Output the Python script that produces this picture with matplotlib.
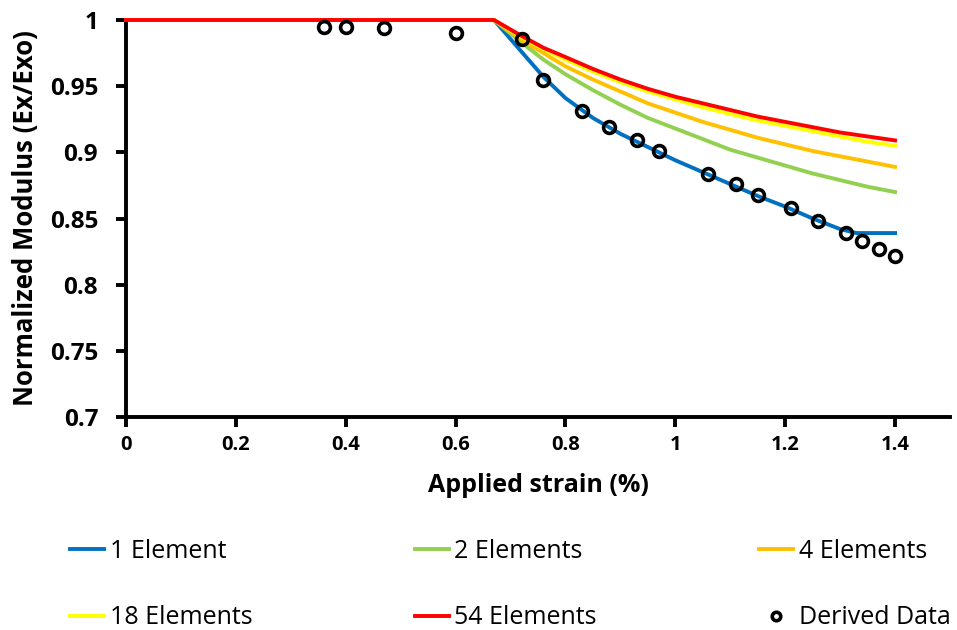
import matplotlib
matplotlib.use("Agg")
import matplotlib.pyplot as plt

# ---- data ----
x_line = [0, 0.67, 0.72, 0.76, 0.8, 0.85, 0.9, 0.95, 1.0, 1.05, 1.1, 1.15, 1.2, 1.25, 1.3, 1.35, 1.4]
x_blue = [0, 0.67, 0.72, 0.76, 0.8, 0.85, 0.9, 0.95, 1.0, 1.05, 1.1, 1.15, 1.2, 1.25, 1.3, 1.33, 1.4]
el1 = [1, 1, 0.976, 0.957, 0.941, 0.926, 0.914, 0.904, 0.894, 0.885, 0.876, 0.867, 0.859, 0.850, 0.842, 0.839, 0.839]
el2 = [1, 1, 0.983, 0.970, 0.959, 0.947, 0.936, 0.926, 0.918, 0.910, 0.902, 0.896, 0.890, 0.884, 0.879, 0.874, 0.870]
el4 = [1, 1, 0.985, 0.975, 0.965, 0.955, 0.946, 0.937, 0.930, 0.923, 0.917, 0.911, 0.906, 0.901, 0.897, 0.893, 0.889]
el18 = [1, 1, 0.987, 0.978, 0.970, 0.961, 0.953, 0.946, 0.940, 0.934, 0.929, 0.924, 0.920, 0.916, 0.912, 0.908, 0.905]
el54 = [1, 1, 0.988, 0.979, 0.972, 0.963, 0.955, 0.948, 0.942, 0.937, 0.932, 0.927, 0.923, 0.919, 0.915, 0.912, 0.909]

derived_x = [0.36, 0.40, 0.47, 0.60, 0.72, 0.76, 0.83, 0.88, 0.93, 0.97, 1.06, 1.11, 1.15, 1.21, 1.26, 1.31, 1.34, 1.37, 1.40]
derived_y = [0.995, 0.995, 0.994, 0.990, 0.986, 0.955, 0.931, 0.919, 0.909, 0.901, 0.884, 0.876, 0.868, 0.858, 0.848, 0.839, 0.833, 0.827, 0.822]

x_ticks = [0, 0.2, 0.4, 0.6, 0.8, 1.0, 1.2, 1.4]
x_ticklabels = ["0", "0.2", "0.4", "0.6", "0.8", "1", "1.2", "1.4"]
y_ticks = [0.7, 0.75, 0.8, 0.85, 0.9, 0.95, 1.0]
y_ticklabels = ["0.7", "0.75", "0.8", "0.85", "0.9", "0.95", "1"]

labels = ["1 Element", "2 Elements", "4 Elements", "18 Elements", "54 Elements", "Derived Data"]
colors = ["#0070C0", "#92D050", "#FFC000", "#FFFF00", "#FF0000"]

plt.rcParams['font.family'] = ['Open Sans', 'DejaVu Sans']

W, H = 957, 630
fig = plt.figure(figsize=(W / 100, H / 100), dpi=100)
L, R, T, B = 126, 950, 20, 417
ax = fig.add_axes([L / W, 1 - B / H, (R - L) / W, (B - T) / H])

lw = 2.8
h1, = ax.plot(x_blue, el1, color=colors[0], lw=lw, clip_on=False, zorder=3)
h2, = ax.plot(x_line, el2, color=colors[1], lw=lw, clip_on=False, zorder=3)
h4, = ax.plot(x_line, el4, color=colors[2], lw=lw, clip_on=False, zorder=3)
h18, = ax.plot(x_line, el18, color=colors[3], lw=lw, clip_on=False, zorder=3)
h54, = ax.plot(x_line, el54, color=colors[4], lw=lw, clip_on=False, zorder=3)
hd, = ax.plot(derived_x, derived_y, linestyle='none', marker='o', markersize=8.5,
              markerfacecolor='none', markeredgecolor='black', markeredgewidth=2.6,
              clip_on=False, zorder=4)

ax.set_xlim(0, 1.5)
ax.set_ylim(0.7, 1.0)
ax.set_xticks(x_ticks)
ax.set_xticklabels(x_ticklabels, fontsize=14.5, fontweight='bold')
ax.set_yticks(y_ticks)
ax.set_yticklabels(y_ticklabels, fontsize=17.5, fontweight='bold')

for s in ['top', 'right']:
    ax.spines[s].set_visible(False)
for s in ['left', 'bottom']:
    ax.spines[s].set_linewidth(2.8)
    ax.spines[s].set_color('black')
ax.tick_params(axis='both', direction='out', length=7, width=2.8, color='black')
ax.tick_params(axis='x', pad=6)
ax.tick_params(axis='y', pad=13)

ax.set_xlabel("Applied strain (%)", fontsize=18, fontweight='bold', labelpad=13)
ax.set_ylabel("Normalized Modulus (Ex/Exo)", fontsize=18.5, fontweight='bold', labelpad=8)

handles = [h1, h18, h2, h54, h4, hd]
leg_labels = [labels[0], labels[3], labels[1], labels[4], labels[2], labels[5]]
leg = fig.legend(handles, leg_labels, loc='upper left', ncol=3,
                 bbox_to_anchor=(70 / W, 1 - 539 / H), frameon=False,
                 fontsize=18, handlelength=1.36, handletextpad=0.22,
                 columnspacing=6.5, labelspacing=1.65, borderpad=0, borderaxespad=0,
                 markerscale=0.72)

fig.savefig("out.png", dpi=100)
